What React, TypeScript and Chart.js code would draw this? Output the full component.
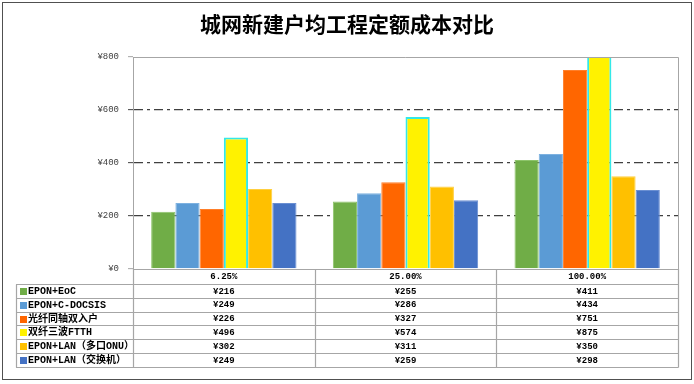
import React, { useEffect, useRef } from 'react';
import { Chart, registerables } from 'chart.js';

Chart.register(...registerables);

const TITLE = '城网新建户均工程定额成本对比';
const CATEGORIES = ['6.25%', '25.00%', '100.00%'];
const SERIES_NAMES = [
  'EPON+EoC',
  'EPON+C-DOCSIS',
  '光纤同轴双入户',
  '双纤三波FTTH',
  'EPON+LAN（多口ONU）',
  'EPON+LAN（交换机）',
];
const EPON_EOC = [216, 255, 411];
const EPON_CDOCSIS = [249, 286, 434];
const COAX_DUAL = [226, 327, 751];
const DUAL_FIBER_FTTH = [496, 574, 875];
const LAN_MULTI_ONU = [302, 311, 350];
const LAN_SWITCH = [249, 259, 298];
const SERIES_VALUES = [EPON_EOC, EPON_CDOCSIS, COAX_DUAL, DUAL_FIBER_FTTH, LAN_MULTI_ONU, LAN_SWITCH];
const Y_MIN = 0;
const Y_MAX = 800;
const Y_STEP = 200;

const FILL_COLORS = ['#70AD47', '#5B9BD5', '#FF6600', '#FFF200', '#FFC000', '#4472C4'];
const BORDER_COLORS = ['#8DC46A', '#7DB1E0', '#FF7F2A', '#33E8E8', '#FFCF40', '#6A8FD2'];
const BORDER_WIDTHS = [1, 1, 1, 2, 1, 1];

const MONO = '"Liberation Mono", "DejaVu Sans Mono", "Noto Sans CJK SC", monospace';
const GRID_DARK = '#404040';
const FRAME_GRAY = '#A6A6A6';

const decorPlugin = {
  id: 'decor',
  beforeDraw(chart: any) {
    const { ctx, width, height } = chart;
    ctx.save();
    ctx.fillStyle = '#FFFFFF';
    ctx.fillRect(0, 0, width, height);
    ctx.restore();
  },
  afterDraw(chart: any) {
    const { ctx, chartArea: ca, scales } = chart;
    const xs = scales.x;
    ctx.save();

    // outer frame
    ctx.strokeStyle = '#505050';
    ctx.lineWidth = 1;
    ctx.strokeRect(2.5, 2.5, 689, 377);

    // title
    ctx.fillStyle = '#000000';
    ctx.font = 'bold 21px "Noto Sans CJK SC", sans-serif';
    ctx.textAlign = 'center';
    ctx.textBaseline = 'middle';
    ctx.fillText(TITLE, 347, 24);

    // plot frame top & right
    ctx.strokeStyle = FRAME_GRAY;
    ctx.lineWidth = 1;
    ctx.beginPath();
    ctx.moveTo(ca.left, Math.round(ca.top) + 0.5);
    ctx.lineTo(Math.round(ca.right) + 0.5, Math.round(ca.top) + 0.5);
    ctx.lineTo(Math.round(ca.right) + 0.5, ca.bottom);
    ctx.stroke();

    // data table
    const top = ca.bottom;
    const headerH = 15;
    const rowH = 13.8;
    const left = 16;
    const right = Math.round(ca.right) + 0.5;
    const rows = SERIES_NAMES.length;
    const bodyTop = top + headerH;
    const bottom = bodyTop + rows * rowH;

    ctx.strokeStyle = FRAME_GRAY;
    ctx.lineWidth = 1.2;
    ctx.beginPath();
    for (let r = 0; r <= rows; r++) {
      const y = Math.round(bodyTop + r * rowH) + 0.5;
      ctx.moveTo(left, y);
      ctx.lineTo(right, y);
    }
    ctx.moveTo(left + 0.5, Math.round(bodyTop) + 0.5);
    ctx.lineTo(left + 0.5, Math.round(bottom) + 0.5);
    const n = CATEGORIES.length;
    const bounds: number[] = [ca.left];
    for (let i = 0; i < n - 1; i++) {
      bounds.push((xs.getPixelForValue(i) + xs.getPixelForValue(i + 1)) / 2);
    }
    bounds.push(ca.right);
    bounds.forEach((bx) => {
      const px = Math.round(bx) + 0.5;
      ctx.moveTo(px, top);
      ctx.lineTo(px, Math.round(bottom) + 0.5);
    });
    ctx.stroke();

    // category header labels
    ctx.fillStyle = '#000000';
    ctx.font = 'bold 9px ' + MONO;
    ctx.textAlign = 'center';
    ctx.textBaseline = 'middle';
    CATEGORIES.forEach((c, i) => {
      ctx.fillText(c, xs.getPixelForValue(i), top + headerH / 2 + 0.5);
    });

    // legend keys + names + values
    for (let r = 0; r < rows; r++) {
      const cy = bodyTop + r * rowH + rowH / 2 + 0.5;
      ctx.fillStyle = FILL_COLORS[r];
      ctx.fillRect(20, Math.round(cy - 3.5), 7, 7);
      ctx.fillStyle = '#000000';
      ctx.font = 'bold 10px ' + MONO;
      ctx.textAlign = 'left';
      ctx.textBaseline = 'middle';
      ctx.fillText(SERIES_NAMES[r], 28, cy);
      ctx.font = 'bold 9px ' + MONO;
      ctx.textAlign = 'center';
      SERIES_VALUES[r].forEach((v, i) => {
        ctx.fillText('¥' + v, xs.getPixelForValue(i), cy);
      });
    }
    ctx.restore();
  },
};

export default function App() {
  const canvasRef = useRef<HTMLCanvasElement | null>(null);

  useEffect(() => {
    document.body.style.margin = '0';
    const canvas = canvasRef.current;
    if (!canvas) return;
    const chart = new Chart(canvas, {
      type: 'bar',
      data: {
        labels: CATEGORIES,
        datasets: SERIES_NAMES.map((name, i) => ({
          label: name,
          data: SERIES_VALUES[i],
          backgroundColor: FILL_COLORS[i],
          borderColor: BORDER_COLORS[i],
          borderWidth: BORDER_WIDTHS[i],
          categoryPercentage: 0.8,
          barPercentage: 1.0,
        })),
      },
      options: {
        responsive: false,
        animation: false,
        devicePixelRatio: 1,
        layout: { padding: { left: 0, top: 57, right: 16, bottom: 115 } },
        plugins: {
          legend: { display: false },
          title: { display: false },
          tooltip: { enabled: false },
        },
        scales: {
          x: {
            grid: { display: false, drawTicks: false },
            border: { display: true, color: FRAME_GRAY, width: 1 },
            ticks: { display: false },
            afterFit: (s: any) => {
              s.height = 0;
            },
          },
          y: {
            min: Y_MIN,
            max: Y_MAX,
            ticks: {
              stepSize: Y_STEP,
              callback: (v: any) => '¥' + v,
              font: { family: MONO, size: 9 },
              color: '#404040',
              padding: 9,
            },
            grid: {
              color: (c: any) =>
                c.tick && (c.tick.value === Y_MIN || c.tick.value === Y_MAX) ? 'rgba(0,0,0,0)' : GRID_DARK,
              lineWidth: 1.3,
              tickLength: 5,
              tickColor: (c: any) =>
                c.tick && (c.tick.value === Y_MIN || c.tick.value === Y_MAX) ? FRAME_GRAY : GRID_DARK,
              tickWidth: 1,
            },
            border: { display: true, color: FRAME_GRAY, width: 1, dash: [9, 4, 3, 4] },
            afterFit: (s: any) => {
              s.width = 133;
            },
          },
        },
      },
      plugins: [decorPlugin],
    });
    return () => chart.destroy();
  }, []);

  return (
    <div style={{ position: 'fixed', left: 0, top: 0, width: 694, height: 384, background: '#fff' }}>
      <canvas ref={canvasRef} width={694} height={384} style={{ width: 694, height: 384, display: 'block' }} />
    </div>
  );
}
